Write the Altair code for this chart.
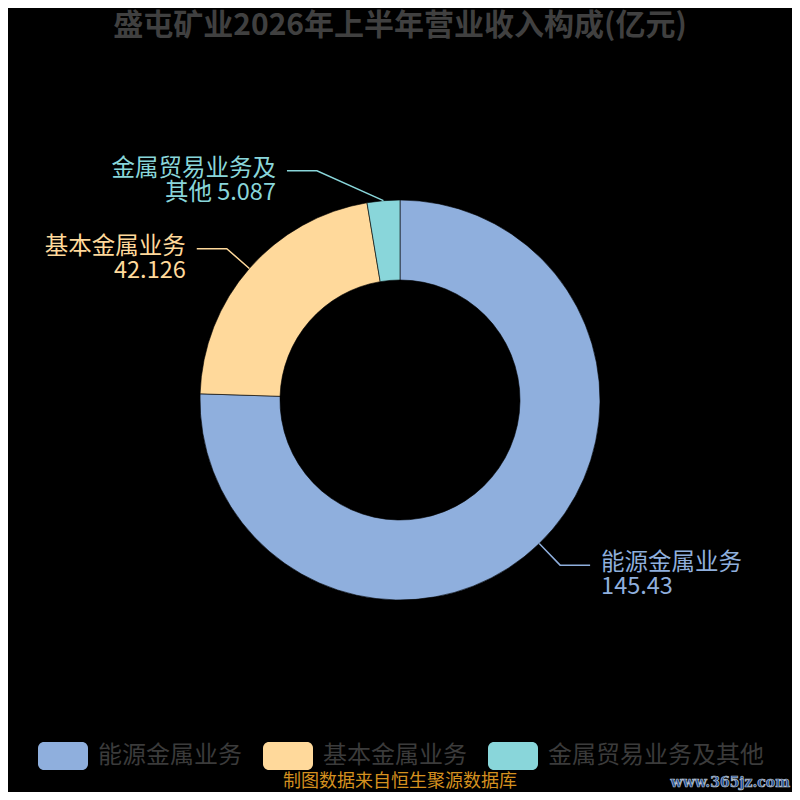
import math
import altair as alt
import pandas as pd

# ---------------- data ----------------
categories = ["能源金属业务", "基本金属业务", "金属贸易业务及其他"]
values = [145.43, 42.126, 5.087]
label_texts = ["能源金属业务\n145.43", "基本金属业务\n42.126", "金属贸易业务及\n其他 5.087"]
colors = ["#8FAFDD", "#FFD99B", "#89D6DA"]

title_text = "盛屯矿业2026年上半年营业收入构成(亿元)"
source_text = "制图数据来自恒生聚源数据库"
watermark_text = "www.365jz.com"

# ---------------- layout (page pixels) ----------------
W = H = 784
M = 8
CX, CY = 400, 400
R_OUT, R_IN = 200, 120
LEN1, LEN2, GAP = 30, 30, 11
elbow_shift = [0, 0, -64]
FONT = "Noto Sans CJK SC"

total = sum(values)
rows_arc, rows_line, rows_lab = [], [], []
cum = 0.0
for i, (c, v) in enumerate(zip(categories, values)):
    a0 = cum / total * 2 * math.pi
    cum += v
    a1 = cum / total * 2 * math.pi
    mid = (a0 + a1) / 2
    sx = CX + R_OUT * math.sin(mid)
    sy = CY - R_OUT * math.cos(mid)
    ex = CX + (R_OUT + LEN1) * math.sin(mid) + elbow_shift[i]
    ey = CY - (R_OUT + LEN1) * math.cos(mid)
    side = 1 if ex >= CX else -1
    fx = ex + side * LEN2
    rows_arc.append({"category": c, "value": v, "idx": i})
    for k, (px, py) in enumerate([(sx, sy), (ex, ey), (fx, ey)]):
        rows_line.append({"category": c, "px": px, "py": py, "k": k})
    rows_lab.append({"category": c, "text": label_texts[i],
                     "px": fx + side * GAP, "py": ey - 2,
                     "align": "left" if side > 0 else "right"})

df_arc = pd.DataFrame(rows_arc)
df_line = pd.DataFrame(rows_line)
df_lab = pd.DataFrame(rows_lab)

xs = alt.Scale(domain=[M, M + W], range=[0, W])
ys = alt.Scale(domain=[M, M + H], range=[0, H])

rr = "M-0.76,-0.56 L0.76,-0.56 A0.24,0.24 0 0 1 1,-0.32 L1,0.32 A0.24,0.24 0 0 1 0.76,0.56 L-0.76,0.56 A0.24,0.24 0 0 1 -1,0.32 L-1,-0.32 A0.24,0.24 0 0 1 -0.76,-0.56 Z"

color_scale = alt.Scale(domain=categories, range=colors)

arcs = alt.Chart(df_arc).mark_arc(
    innerRadius=R_IN, outerRadius=R_OUT, stroke="#000000", strokeWidth=0.6
).encode(
    theta=alt.Theta("value:Q", stack=True),
    order=alt.Order("idx:Q", sort="ascending"),
    color=alt.Color("category:N", scale=color_scale, sort=categories,
                    legend=alt.Legend(
                        title=None, orient="none", legendX=30, legendY=723,
                        direction="horizontal", symbolType=rr, symbolSize=2500,
                        symbolStrokeWidth=0, symbolOpacity=1,
                        labelFont=FONT, labelFontSize=24, labelColor="#3b3b3b",
                        labelOffset=10, columnPadding=21, labelLimit=400,
                        padding=0)),
    tooltip=["category:N", "value:Q"],
)

lines = alt.Chart(df_line).mark_line(strokeWidth=1.5).encode(
    x=alt.X("px:Q", scale=xs, axis=None),
    y=alt.Y("py:Q", scale=ys, axis=None),
    detail="category:N",
    order="k:Q",
    color=alt.Color("category:N", scale=color_scale, legend=None),
)

def label_layer(align):
    return alt.Chart(df_lab).transform_filter(alt.datum.align == align).mark_text(
        align=align, baseline="middle", font=FONT, fontSize=23.5,
        lineBreak="\n", lineHeight=24,
    ).encode(
        x=alt.X("px:Q", scale=xs, axis=None),
        y=alt.Y("py:Q", scale=ys, axis=None),
        text="text:N",
        color=alt.Color("category:N", scale=color_scale, legend=None),
    )

title = alt.Chart(pd.DataFrame({"t": [title_text]})).mark_text(
    font=FONT, fontSize=30, fontWeight="bold", color="#404040",
    align="center", baseline="middle",
).encode(x=alt.value(CX - M), y=alt.value(26 - M), text="t:N")

source = alt.Chart(pd.DataFrame({"t": [source_text]})).mark_text(
    font=FONT, fontSize=18, color="#D4901F", align="center", baseline="middle",
).encode(x=alt.value(CX - M), y=alt.value(782 - M), text="t:N")

wm_fill = alt.Chart(pd.DataFrame({"t": [watermark_text]})).mark_text(
    font="DejaVu Serif", fontSize=14, fontWeight="bold",
    color="#1F4E9A", stroke="#b8c0cc", strokeWidth=0.7,
    align="right", baseline="middle",
).encode(x=alt.value(790 - M), y=alt.value(783 - M), text="t:N")

chart = alt.layer(
    arcs, lines, label_layer("left"), label_layer("right"),
    title, source, wm_fill
).properties(
    width=W, height=H, autosize="none", padding=0,
    background="#000000",
).configure_view(stroke=None)

chart.save("out.html", embed_options={"renderer": "svg", "actions": False})
